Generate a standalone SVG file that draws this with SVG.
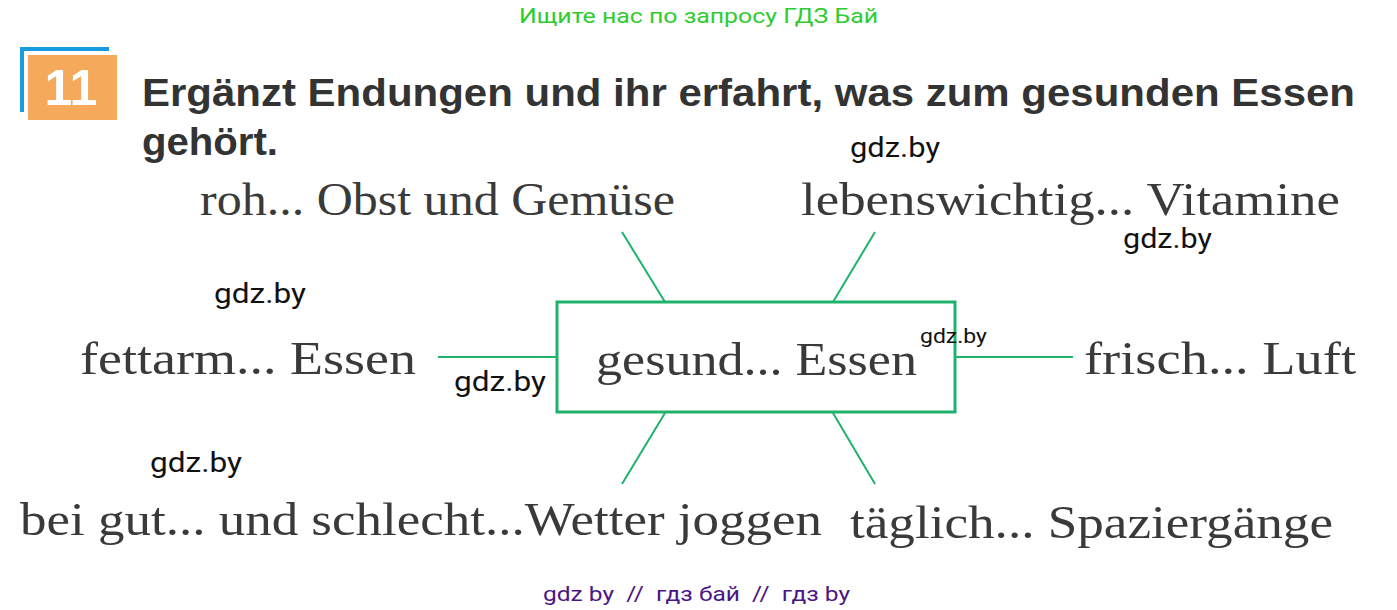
<svg xmlns="http://www.w3.org/2000/svg" width="1397" height="610" viewBox="0 0 1397 610">
<style>
.s{font-family:"Liberation Serif","DejaVu Serif",serif;font-size:46px;fill:#3a3a3a}
.w{font-family:Roboto,"Liberation Sans",sans-serif;fill:#111}
.t{font-family:"Liberation Sans",Arial,sans-serif;font-weight:bold;font-size:39px;fill:#333}
.c{stroke:#1fb26c;stroke-width:2;fill:none}
</style>
<rect width="1397" height="610" fill="#fff"/>
<text x="519" y="23" font-family="Roboto,'Liberation Sans',sans-serif" font-size="21" fill="#2ecc2e" textLength="359" lengthAdjust="spacingAndGlyphs">Ищите нас по запросу ГДЗ Бай</text>
<g id="badge">
<rect x="20" y="47" width="89" height="65" fill="#1a9be0"/>
<rect x="24" y="51" width="85" height="61" fill="#fff"/>
<rect x="28" y="55" width="89" height="65" fill="#f5a95a"/>
<text x="71" y="105" text-anchor="middle" font-family="'Liberation Sans',Arial,sans-serif" font-weight="bold" font-size="50" fill="#fff">11</text>
</g>
<text class="t" x="142" y="106" textLength="1213" lengthAdjust="spacingAndGlyphs">Ergänzt Endungen und ihr erfahrt, was zum gesunden Essen</text>
<text class="t" x="142" y="155" textLength="136" lengthAdjust="spacingAndGlyphs">gehört.</text>
<g id="connectors">
<line class="c" x1="622" y1="232" x2="665" y2="302"/>
<line class="c" x1="875" y1="232" x2="833" y2="302"/>
<line class="c" x1="665" y1="413" x2="622" y2="484"/>
<line class="c" x1="833" y1="413" x2="875" y2="484"/>
<line class="c" x1="438" y1="357" x2="557" y2="357"/>
<line class="c" x1="955" y1="357" x2="1073" y2="357"/>
</g>
<g id="center">
<rect x="557" y="302" width="398" height="110" fill="none" stroke="#1fb26c" stroke-width="3"/>
<text class="s" x="596" y="375" textLength="321" lengthAdjust="spacingAndGlyphs">gesund... Essen</text>
</g>
<g id="n1"><text class="s" x="200" y="215" textLength="475" lengthAdjust="spacingAndGlyphs">roh... Obst und Gemüse</text></g>
<g id="n2"><text class="s" x="801" y="215" textLength="539" lengthAdjust="spacingAndGlyphs">lebenswichtig... Vitamine</text></g>
<g id="n3"><text class="s" x="80" y="374" textLength="336" lengthAdjust="spacingAndGlyphs">fettarm... Essen</text></g>
<g id="n4"><text class="s" x="1084" y="374" textLength="272" lengthAdjust="spacingAndGlyphs">frisch... Luft</text></g>
<g id="n5"><text class="s" x="20" y="535" textLength="802" lengthAdjust="spacingAndGlyphs">bei gut... und schlecht...Wetter joggen</text></g>
<g id="n6"><text class="s" x="850" y="538" textLength="483" lengthAdjust="spacingAndGlyphs">täglich... Spaziergänge</text></g>
<text class="w" x="850" y="157" font-size="27" textLength="90" lengthAdjust="spacingAndGlyphs">gdz.by</text>
<text class="w" x="1123" y="248" font-size="27" textLength="89" lengthAdjust="spacingAndGlyphs">gdz.by</text>
<text class="w" x="214" y="303" font-size="27" textLength="92" lengthAdjust="spacingAndGlyphs">gdz.by</text>
<text class="w" x="920" y="343" font-size="21" textLength="67" lengthAdjust="spacingAndGlyphs">gdz.by</text>
<text class="w" x="454" y="391" font-size="27" textLength="92" lengthAdjust="spacingAndGlyphs">gdz.by</text>
<text class="w" x="150" y="472" font-size="27" textLength="92" lengthAdjust="spacingAndGlyphs">gdz.by</text>
<text x="543" y="601" font-family="Roboto,'Liberation Sans',sans-serif" font-size="21" fill="#4b1585" textLength="307" lengthAdjust="spacingAndGlyphs" xml:space="preserve">gdz by  //  гдз бай  //  гдз by</text>
</svg>
